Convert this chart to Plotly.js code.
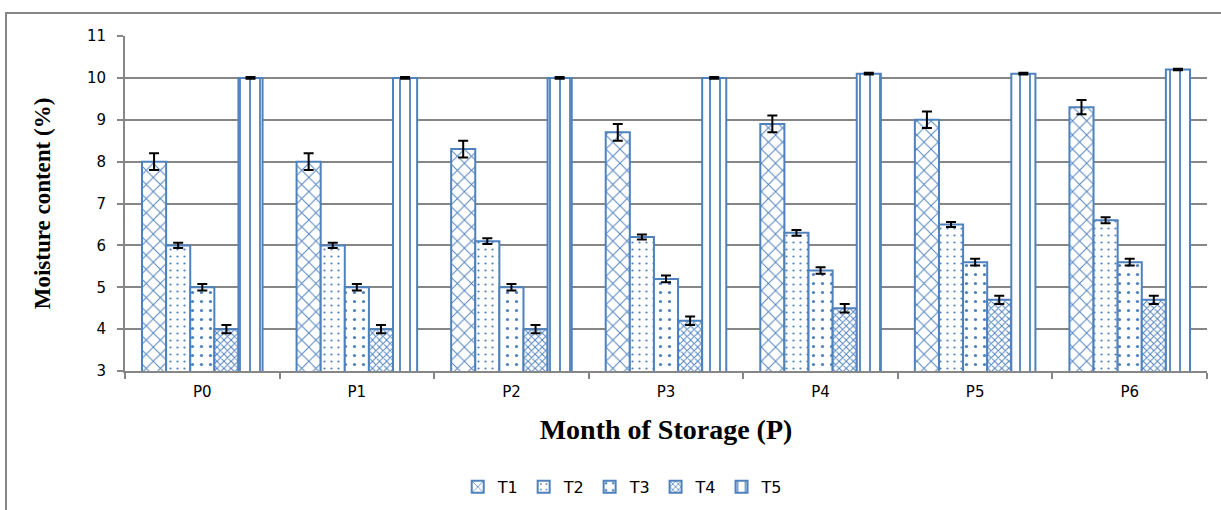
<!DOCTYPE html>
<html>
<head>
<meta charset="utf-8">
<script src="https://cdn.plot.ly/plotly-3.0.1.min.js"></script>
<style>
html,body{margin:0;padding:0;background:#fff;}
#chart{width:1221px;height:510px;}
</style>
</head>
<body>
<div id="chart"></div>
<script>
const months = ['P0','P1','P2','P3','P4','P5','P6'];
const seriesNames = ['T1','T2','T3','T4','T5'];
const t1 = [8.0, 8.0, 8.3, 8.7, 8.9, 9.0, 9.3];
const t2 = [6.0, 6.0, 6.1, 6.2, 6.3, 6.5, 6.6];
const t3 = [5.0, 5.0, 5.0, 5.2, 5.4, 5.6, 5.6];
const t4 = [4.0, 4.0, 4.0, 4.2, 4.5, 4.7, 4.7];
const t5 = [10.0, 10.0, 10.0, 10.0, 10.1, 10.1, 10.2];
const e1 = [0.2, 0.2, 0.2, 0.2, 0.2, 0.2, 0.17];
const e2 = [0.06, 0.06, 0.07, 0.06, 0.07, 0.06, 0.07];
const e3 = [0.08, 0.08, 0.08, 0.08, 0.08, 0.08, 0.08];
const e4 = [0.1, 0.1, 0.1, 0.1, 0.1, 0.1, 0.1];
const e5 = [0.02, 0.02, 0.02, 0.02, 0.02, 0.02, 0.02];

const values = [t1, t2, t3, t4, t5];
const errors = [e1, e2, e3, e4, e5];
const patterns = [
  {shape:'x', size:10, solidity:0.18},
  {shape:'.', size:7, solidity:0.08},
  {shape:'.', size:9, solidity:0.1},
  {shape:'x', size:5, solidity:0.35},
  {shape:'|', size:10, solidity:0.18}
];
const blue = '#4F81BD';

const traces = seriesNames.map((name, i) => ({
  type:'bar',
  name: name,
  x: months,
  y: values[i],
  marker:{
    color:'white',
    line:{color:blue, width:2},
    pattern:Object.assign({fgcolor:blue, bgcolor:'white', fillmode:'replace'}, patterns[i])
  },
  error_y:{type:'data', array: errors[i], visible:true, color:'black', thickness:2, width:5}
}));

const layout = {
  width:1221, height:510,
  margin:{l:125, r:14, t:36, b:139, autoexpand:false},
  paper_bgcolor:'white', plot_bgcolor:'white',
  barmode:'group', bargap:0.22, bargroupgap:0,
  font:{family:'DejaVu Sans', size:15, color:'#000'},
  xaxis:{
    type:'category', automargin:false,
    showline:true, linecolor:'#868686', linewidth:2,
    ticks:'outside', tickson:'boundaries', ticklen:6, tickcolor:'#868686', tickwidth:2,
    ticklabelstandoff:6,
    tickfont:{family:'DejaVu Sans', size:15, color:'#000'},
    showgrid:false,
    title:{text:'Month of Storage (P)', font:{family:'Liberation Serif', size:28, color:'#000', weight:'bold'}, standoff:19}
  },
  yaxis:{
    range:[3,11], dtick:1, tick0:3, automargin:false,
    showline:true, linecolor:'#868686', linewidth:2,
    ticks:'outside', ticklen:6, tickcolor:'#868686', tickwidth:2,
    ticklabelstandoff:8,
    showgrid:true, gridcolor:'#868686', gridwidth:2,
    zeroline:false,
    tickfont:{family:'DejaVu Sans', size:15, color:'#000'},
    title:{text:'Moisture content (%)', font:{family:'Liberation Serif', size:23, color:'#000', weight:'bold'}, standoff:30}
  },
  legend:{
    orientation:'h', x:0.46, xanchor:'center', y:-0.346, yanchor:'middle',
    font:{family:'DejaVu Sans', size:16, color:'#000'},
    itemwidth:30, traceorder:'normal'
  },
  shapes:[{
    type:'rect', xref:'paper', yref:'paper',
    x0:(6-125)/1082, x1:1.05, y0:-0.5, y1:(371-13)/335,
    line:{color:'#868686', width:2}, fillcolor:'rgba(0,0,0,0)', layer:'below'
  }],
  showlegend:true
};

Plotly.newPlot('chart', traces, layout, {displayModeBar:false, staticPlot:true});
</script>
</body>
</html>
